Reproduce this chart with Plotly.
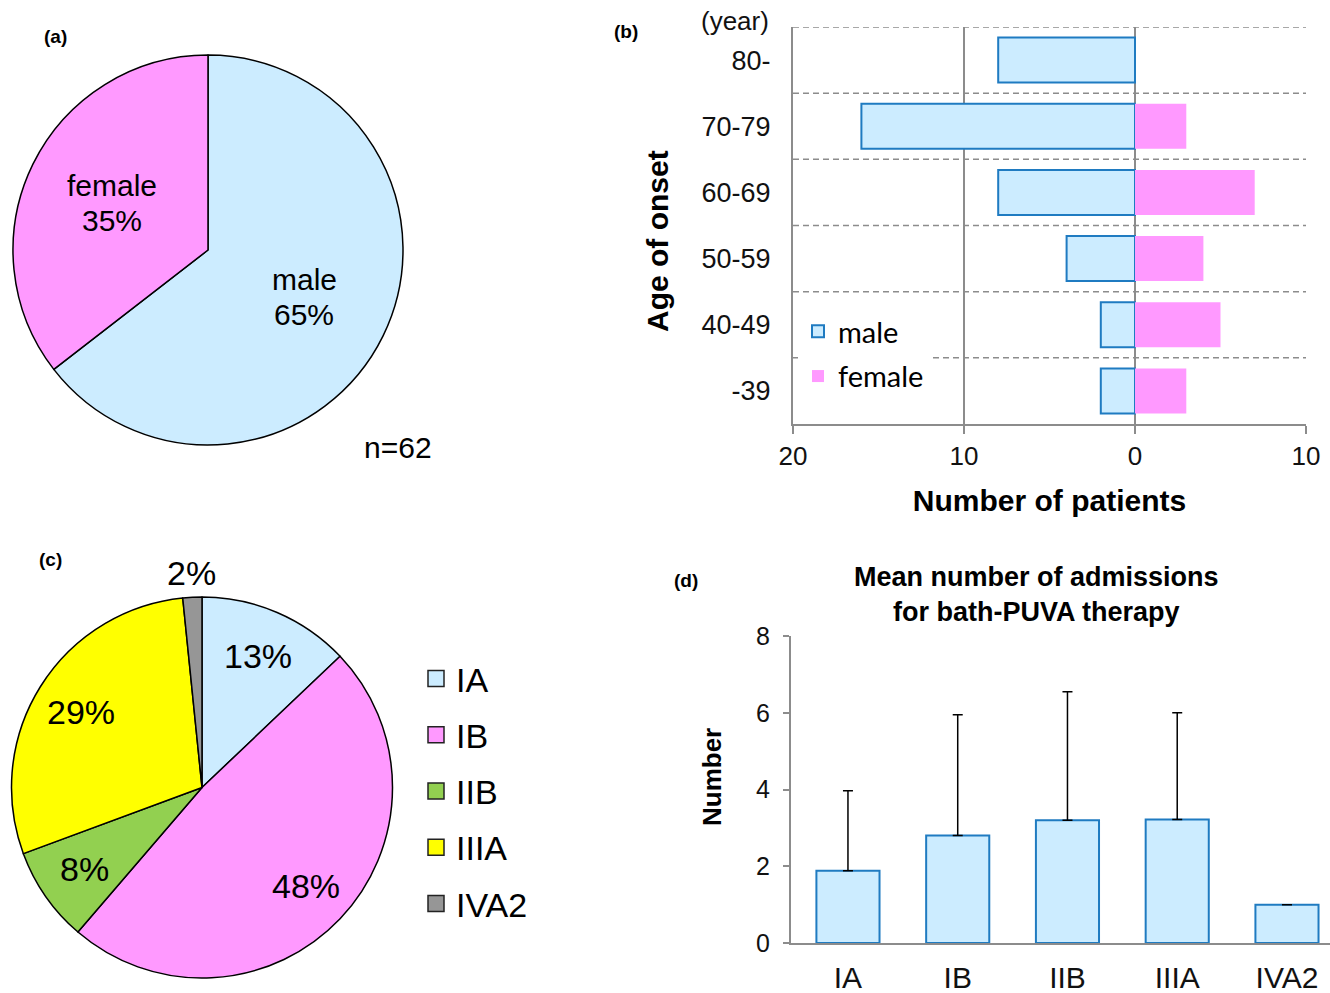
import math
import plotly.graph_objects as go

W, H = 1330, 993

# (b) age of onset by sex
age_groups = ["-39", "40-49", "50-59", "60-69", "70-79", "80-"]
male_by_age = [2, 2, 4, 8, 16, 8]
female_by_age = [3, 5, 4, 7, 3, 0]

# (a) sex ratio (totals of panel b)
sex_labels = ["male", "female"]
sex_counts = [sum(male_by_age), sum(female_by_age)]

# (c) clinical stage at start of therapy
stages = ["IA", "IB", "IIB", "IIIA", "IVA2"]
stage_counts = [8, 30, 5, 18, 1]

# (d) admissions for bath-PUVA therapy, mean and SD per stage
adm_mean = [1.88, 2.80, 3.20, 3.22, 1.00]
adm_sd = [2.09, 3.15, 3.35, 2.78, 0.0]

# tick setup for the mirrored population axis
pop_tickvals = [-20, -10, 0, 10]
pop_ticktext = ["20", "10", "0", "10"]

LIGHT_BLUE = "#CCECFF"
PINK = "#FF99FF"
EDGE = "#1F7BC1"
GREEN = "#92D050"
YELLOW = "#FFFF00"
GREY = "#969696"
AXIS = "#8C8C8C"
TEXT = "#111111"
stage_colors = [LIGHT_BLUE, PINK, GREEN, YELLOW, GREY]

SANS = "Liberation Sans, Arial, sans-serif"


def fx(p):
    return p / W


def fy(p):
    return 1 - p / H


def pie_domain(cx, cy, r):
    return dict(x=[fx(cx - r), fx(cx + r)], y=[fy(cy + r), fy(cy - r)])


def slice_anchors(counts, cx, cy, r, k_in, k_out, small=0.05):
    """Label anchor points (paper coords) at each slice's mid-angle,
    clockwise from 12 o'clock."""
    total = sum(counts)
    cum = 0.0
    out = []
    for c in counts:
        f = c / total
        theta = 2 * math.pi * (cum + f / 2)
        cum += f
        k = k_in if f >= small else k_out
        x = cx + r * k * math.sin(theta)
        y = cy - r * k * math.cos(theta)
        out.append((fx(x), fy(y), f))
    return out


PIE_A = (208, 250, 195)
PIE_C = (202, 787.5, 190.5)

fig = go.Figure()

# (a) sex pie
fig.add_trace(go.Pie(
    labels=sex_labels, values=sex_counts, sort=False, direction="clockwise",
    rotation=0, marker=dict(colors=[LIGHT_BLUE, PINK], line=dict(color="black", width=1.5)),
    textinfo="none", showlegend=False, domain=pie_domain(*PIE_A),
))

# (c) stage pie
fig.add_trace(go.Pie(
    labels=stages, values=stage_counts, sort=False, direction="clockwise",
    rotation=0,
    marker=dict(colors=stage_colors, line=dict(color="black", width=1.5)),
    textinfo="none", showlegend=False, domain=pie_domain(*PIE_C),
))

# square swatches for the stage legend
for name, color in zip(stages, stage_colors):
    fig.add_trace(go.Scatter(
        x=[None], y=[None], mode="markers", name=name,
        legend="legend2", legendgroup=name, hoverinfo="skip",
        marker=dict(symbol="square", size=16, color=color,
                    line=dict(color="#222222", width=1.5)),
        xaxis="x2", yaxis="y2",
    ))

# (b) age of onset, male to the left, female to the right
fig.add_trace(go.Bar(
    y=age_groups, x=[-v for v in male_by_age], orientation="h", name="male",
    width=0.68, marker=dict(color=LIGHT_BLUE, line=dict(color=EDGE, width=2)),
    legendgroup="male", customdata=male_by_age,
    hovertemplate="%{y}: %{customdata}<extra>male</extra>",
    xaxis="x", yaxis="y",
))
fig.add_trace(go.Bar(
    y=age_groups, x=female_by_age, orientation="h", name="female",
    width=0.68, marker=dict(color=PINK, line=dict(width=0)),
    legendgroup="female", xaxis="x", yaxis="y",
))

# (d) mean admissions with upper SD whiskers
fig.add_trace(go.Bar(
    x=stages, y=adm_mean, width=0.575, showlegend=False,
    marker=dict(color=LIGHT_BLUE, line=dict(color=EDGE, width=2)),
    error_y=dict(type="data", symmetric=False, array=adm_sd,
                 arrayminus=[0] * len(adm_sd), color="black",
                 thickness=1.5, width=5),
    xaxis="x2", yaxis="y2",
))

annotations = []


def note(text, x, y, size, xanchor="center", bold=False, yshift=0, color="black", angle=0):
    font = dict(family=SANS, size=size, color=color)
    if bold:
        font["weight"] = "bold"
    return dict(text=text, x=x, y=y, xref="paper", yref="paper", showarrow=False,
                xanchor=xanchor, yanchor="middle", yshift=yshift, font=font,
                textangle=angle)


# panel tags
for tag, (x, y) in {"(a)": (55, 37), "(b)": (626, 31), "(c)": (50, 559), "(d)": (686, 580)}.items():
    annotations.append(note(tag, fx(x), fy(y), 19, bold=True))

# (a) slice labels: name above, share below
for (x, y, f), lab in zip(slice_anchors(sex_counts, *PIE_A, 0.55, 0.55), sex_labels):
    annotations.append(note(lab, x, y, 30, yshift=17.5))
    annotations.append(note(f"{round(100 * f)}%", x, y, 30, yshift=-17.5))
annotations.append(note(f"n={sum(sex_counts)}", fx(398), fy(448), 30))

# (c) slice labels
for x, y, f in slice_anchors(stage_counts, *PIE_C, 0.75, 1.13):
    annotations.append(note(f"{round(100 * f)}%", x, y, 34))

# (b) unit note above the category labels, and the category-axis title
annotations.append(note("(year)", fx(771), fy(21), 26, xanchor="right", color=TEXT))
annotations.append(note("Age of onset", fx(657), fy(241), 30, bold=True, angle=-90))

# (d) title and value-axis title
annotations.append(note("Mean number of admissions<br>for bath-PUVA therapy",
                        fx(1036), fy(594), 27, bold=True))
annotations.append(note("Number", fx(712), fy(777), 26, bold=True, angle=-90))

# dashed separators between age bands in (b)
shapes = []
for i in range(len(age_groups)):
    shapes.append(dict(type="line", xref="x", yref="y", x0=-20, x1=10,
                       y0=i + 0.5, y1=i + 0.5, layer="between",
                       line=dict(color=AXIS, width=1.5, dash="6px,4px")))

fig.update_layout(
    width=W, height=H,
    margin=dict(l=0, r=0, t=0, b=0, autoexpand=False),
    paper_bgcolor="white", plot_bgcolor="white",
    barmode="overlay",
    font=dict(family=SANS, color=TEXT),
    xaxis=dict(
        domain=[fx(793), fx(1306)], range=[-20, 10], anchor="y", automargin=False,
        tickvals=pop_tickvals, ticktext=pop_ticktext,
        showgrid=True, gridcolor=AXIS, gridwidth=1.5,
        zeroline=True, zerolinecolor=AXIS, zerolinewidth=1.5,
        showline=True, linecolor=AXIS, linewidth=2,
        ticks="outside", ticklen=8, tickwidth=1.5, tickcolor=AXIS,
        ticklabelstandoff=0,
        tickfont=dict(family=SANS, size=26, color=TEXT),
        title=dict(text="Number of patients", standoff=20,
                   font=dict(family=SANS, size=30, color="black", weight="bold")),
        fixedrange=True,
    ),
    yaxis=dict(
        domain=[fy(424), fy(27)], range=[-0.5, 5.5], anchor="x", automargin=False,
        type="category", categoryorder="array", categoryarray=age_groups,
        showgrid=False, zeroline=False,
        showline=True, linecolor=AXIS, linewidth=2,
        ticks="", ticklabelstandoff=15,
        tickfont=dict(family=SANS, size=27, color=TEXT),
        fixedrange=True,
    ),
    xaxis2=dict(
        domain=[fx(791), 1.0], range=[-0.519, 4.392], anchor="y2", automargin=False,
        type="category", showgrid=False, zeroline=False,
        showline=True, linecolor=AXIS, linewidth=2,
        ticks="", ticklabelstandoff=7,
        tickfont=dict(family=SANS, size=30, color=TEXT),
        fixedrange=True,
    ),
    yaxis2=dict(
        domain=[fy(943), fy(636)], range=[0, 8], anchor="x2", automargin=False,
        tick0=0, dtick=2, showgrid=False, zeroline=False,
        showline=True, linecolor=AXIS, linewidth=2,
        ticks="outside", ticklen=6, tickwidth=1.5, tickcolor=AXIS,
        ticklabelstandoff=8,
        tickfont=dict(family=SANS, size=25, color=TEXT),
        fixedrange=True,
    ),
    legend=dict(
        x=fx(798), y=fy(306), xanchor="left", yanchor="top",
        bgcolor="white", borderwidth=0,
        traceorder="grouped", tracegroupgap=4,
        font=dict(family="Lato, Carlito, sans-serif", size=29, color="black"),
    ),
    legend2=dict(
        x=fx(416), y=fy(650), xanchor="left", yanchor="top",
        bgcolor="rgba(0,0,0,0)", borderwidth=0,
        traceorder="grouped", tracegroupgap=9,
        font=dict(family=SANS, size=34, color="black"),
    ),
    annotations=annotations,
    shapes=shapes,
)

fig.write_html("out.html")
